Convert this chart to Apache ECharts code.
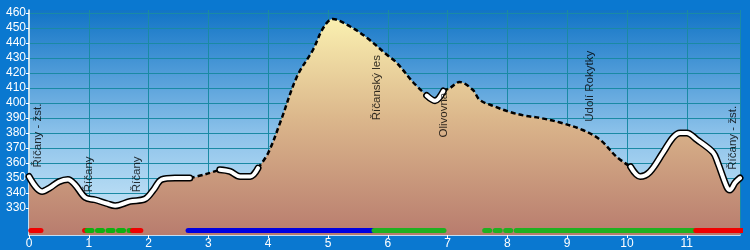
<!DOCTYPE html>
<html>
<head>
<meta charset="utf-8">
<script src="https://cdn.jsdelivr.net/npm/echarts@6/dist/echarts.min.js"></script>
<style>
  html, body { margin: 0; padding: 0; background: #0a78d0; }
  #main { width: 750px; height: 250px; }
</style>
</head>
<body>
<div id="main"></div>
<script>
// profil trasy: [km, výška m n. m.]
var profile = [
    [0, 351], [0.22, 341], [0.35, 343.5], [0.5, 347.5], [0.65, 349], [0.77, 345.5], [0.94, 337],
    [1.1, 335.5], [1.3, 333], [1.44, 331.5], [1.69, 334.4], [1.94, 336], [2.08, 342], [2.22, 349],
    [2.44, 350], [2.69, 350], [2.95, 352.5], [3.19, 355.5], [3.36, 354.4], [3.53, 351], [3.7, 351],
    [3.83, 356.6], [4.0, 366.7], [4.2, 386.9], [4.48, 417.5], [4.75, 435.5], [4.92, 450], [5.08, 456],
    [5.37, 451], [5.65, 443.5], [5.99, 432], [6.15, 426.8], [6.43, 413.5], [6.65, 405], [6.79, 401.5],
    [6.93, 408], [7.04, 410], [7.2, 414], [7.42, 408.8], [7.54, 402], [7.8, 397.5], [8.04, 394],
    [8.3, 391.5], [8.55, 390], [8.88, 387], [9.26, 382], [9.55, 375.5], [9.83, 364], [10.06, 357.5],
    [10.22, 351], [10.38, 354], [10.6, 366.8], [10.77, 377], [10.89, 380], [11.0, 380], [11.17, 375.5],
    [11.44, 367], [11.52, 360], [11.67, 344], [11.72, 342], [11.81, 347], [11.89, 350]
];

// úseky čáry: true = zpevněná (bílá), false = cesta (čárkovaná)
var surface = [
    [0, 2.69, true], [2.69, 3.19, false], [3.19, 3.83, true], [3.83, 6.65, false],
    [6.65, 6.93, true], [6.93, 10.06, false], [10.06, 11.89, true]
];

// barevné pruhy dole: [od km, do km, barva, přerušovaně]
var bands = [
    [0.03, 0.2, '#f00000', false], [0.93, 0.97, '#f00000', false], [0.97, 1.73, '#10b010', true],
    [1.73, 1.87, '#f00000', false], [2.66, 5.77, '#0000e0', false], [5.77, 6.94, '#20b020', false],
    [7.62, 8.26, '#20b020', true], [8.26, 11.15, '#20b020', false], [11.15, 11.95, '#f00000', false]
];
var bandLevel = 315;

// popisky: [název, km, výška spodku textu]
var places = [
    ['Říčany - žst.', 0.14, 357], ['Říčany', 1.0, 340.5], ['Říčany', 1.81, 340.5],
    ['Říčanský les', 5.82, 388.5], ['Olivovna', 6.94, 377], ['Údolí Rokytky', 9.38, 387.5],
    ['Říčany - žst.', 11.77, 355.5]
];

var yTicks = [330, 340, 350, 360, 370, 380, 390, 400, 410, 420, 430, 440, 450, 460];

var smoothness = 0.35;

function slice(a, b) {
    return profile.filter(function (p) { return p[0] >= a - 1e-6 && p[0] <= b + 1e-6; });
}

var series = [{
    type: 'line',
    data: profile,
    symbol: 'none',
    smooth: smoothness,
    lineStyle: { width: 0 },
    areaStyle: {
        opacity: 1,
        color: new echarts.graphic.LinearGradient(0, 0, 0, 1, [
            { offset: 0, color: '#faf0b0' },
            { offset: 0.45, color: '#dcb88c' },
            { offset: 1, color: '#b87c6e' }
        ])
    },
    z: 2,
    silent: true
}];

surface.forEach(function (s) {
    var d = slice(s[0], s[1]);
    if (s[2]) {
        series.push({ type: 'line', data: d, symbol: 'none', silent: true, z: 3, smooth: smoothness,
            lineStyle: { color: '#000', width: 7, cap: 'round', join: 'round' } });
        series.push({ type: 'line', data: d, symbol: 'none', silent: true, z: 4, smooth: smoothness,
            lineStyle: { color: '#fff', width: 4, cap: 'round', join: 'round' } });
    } else {
        series.push({ type: 'line', data: d, symbol: 'none', silent: true, z: 3, smooth: smoothness,
            lineStyle: { color: '#000', width: 2.5, type: [5, 3] } });
    }
});

bands.forEach(function (b) {
    series.push({
        type: 'line', symbol: 'none', silent: true, z: 5,
        data: [[b[0], bandLevel], [b[1], bandLevel]],
        lineStyle: { color: b[2], width: 5, cap: 'round', type: b[3] ? [5, 5.5] : 'solid' }
    });
});

series.push({
    type: 'scatter',
    symbolSize: 0,
    silent: true,
    z: 6,
    data: places.map(function (p) { return { name: p[0], value: [p[1], p[2]] }; }),
    label: {
        show: true,
        position: 'inside',
        rotate: 90,
        align: 'left',
        verticalAlign: 'middle',
        formatter: '{b}',
        color: '#000',
        fontSize: 11.5,
        fontFamily: 'Liberation Sans, Arial, sans-serif'
    }
});

var myChart = echarts.init(document.getElementById('main'));
var option = {
    animation: false,
    backgroundColor: '#0a78d0',
    grid: {
        left: 29,
        right: 10,
        top: 10,
        bottom: 15,
        show: true,
        borderWidth: 0,
        backgroundColor: new echarts.graphic.LinearGradient(0, 0, 0, 1, [
            { offset: 0, color: '#1174c6' },
            { offset: 0.55, color: '#8cc2ea' },
            { offset: 1, color: '#d2ecfa' }
        ])
    },
    xAxis: {
        type: 'value',
        min: 0,
        max: 11.89,
        interval: 1,
        axisLine: { show: true, lineStyle: { color: '#fff', width: 1.5 } },
        axisTick: { show: true, length: 3, lineStyle: { color: '#fff' } },
        axisLabel: {
            color: '#fff', fontSize: 12, margin: 3,
            fontFamily: 'Liberation Sans, Arial, sans-serif',
            showMaxLabel: false
        },
        splitLine: { show: true, lineStyle: { color: '#1a8aa4', width: 1 } }
    },
    yAxis: {
        type: 'value',
        min: 312,
        max: 462,
        axisLine: { show: true, lineStyle: { color: '#fff', width: 1.5 } },
        axisTick: { show: true, length: 3, customValues: yTicks, lineStyle: { color: '#fff' } },
        axisLabel: {
            color: '#fff', fontSize: 12, margin: 3,
            fontFamily: 'Liberation Sans, Arial, sans-serif',
            customValues: yTicks
        },
        splitLine: { show: true, lineStyle: { color: '#1a8aa4', width: 1 } }
    },
    series: series
};
myChart.setOption(option);
</script>
</body>
</html>
